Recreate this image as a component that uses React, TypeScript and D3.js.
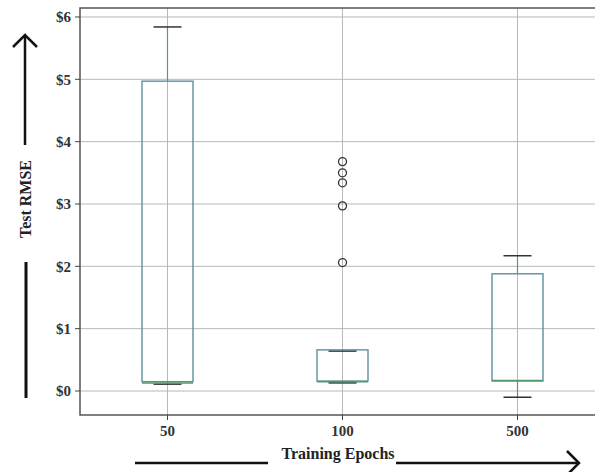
import React from 'react';
import * as d3 from 'd3';

const categories = ['50', '100', '500'];
// five-number summaries: [lowWhisker, q1, median, q3, highWhisker]
const stats = [
  [0.11, 0.15, 0.13, 4.97, 5.84],
  [0.13, 0.16, 0.15, 0.66, 0.64],
  [-0.1, 0.16, 0.17, 1.88, 2.17],
];
const outliers = [[], [3.68, 3.5, 3.34, 2.97, 2.06], []];
const yTicks = [0, 1, 2, 3, 4, 5, 6];

const W = 595;
const H = 472;
const left = 80;
const top = 8;
const bottom = 415;
const right = 605;

const App = () => {
  const x = d3.scaleBand().domain(categories).range([left, right]);
  const y = d3.scaleLinear().domain([-0.385, 6.144]).range([bottom, top]);
  const boxW = 51;
  const capW = 28;
  const font = '"Liberation Serif", "Times New Roman", serif';

  return (
    <svg width={W} height={H} style={{ position: 'absolute', left: 0, top: 0, background: '#fff' }}>
      {/* grid */}
      {yTicks.map(t => (
        <line key={'gy' + t} x1={left} x2={right} y1={y(t)} y2={y(t)} stroke="#b8b8b8" strokeWidth={1} />
      ))}
      {categories.map(c => {
        const cx = x(c)! + x.bandwidth() / 2;
        return <line key={'gx' + c} x1={cx} x2={cx} y1={top} y2={bottom} stroke="#b8b8b8" strokeWidth={1} />;
      })}

      {/* boxes */}
      {categories.map((c, i) => {
        const cx = x(c)! + x.bandwidth() / 2;
        const [lo, q1, med, q3, hi] = stats[i];
        const boxTop = y(Math.max(q1, q3));
        const boxBot = y(Math.min(q1, q3));
        return (
          <g key={c}>
            <line x1={cx} x2={cx} y1={y(hi)} y2={boxTop} stroke="#5a8ea0" strokeWidth={1.2} />
            <line x1={cx} x2={cx} y1={boxBot} y2={y(lo)} stroke="#5a8ea0" strokeWidth={1.2} />
            <line x1={cx - capW / 2} x2={cx + capW / 2} y1={y(hi)} y2={y(hi)} stroke="#333" strokeWidth={1.5} />
            <line x1={cx - capW / 2} x2={cx + capW / 2} y1={y(lo)} y2={y(lo)} stroke="#333" strokeWidth={1.5} />
            <rect x={cx - boxW / 2} y={boxTop} width={boxW} height={boxBot - boxTop}
              fill="none" stroke="#5f8fa0" strokeWidth={1.4} />
            <line x1={cx - boxW / 2} x2={cx + boxW / 2} y1={y(med)} y2={y(med)} stroke="#4f9a6a" strokeWidth={1.5} />
            {outliers[i].map((v, j) => (
              <circle key={j} cx={cx} cy={y(v)} r={4} fill="none" stroke="#333" strokeWidth={1.3} />
            ))}
          </g>
        );
      })}

      {/* frame */}
      <rect x={left} y={top} width={right - left} height={bottom - top} fill="none" stroke="#555" strokeWidth={1.5} />

      {/* y axis */}
      {yTicks.map(t => (
        <g key={'ty' + t}>
          <line x1={left - 5} x2={left} y1={y(t)} y2={y(t)} stroke="#444" strokeWidth={1} />
          <text x={left - 9} y={y(t)} dy="0.35em" textAnchor="end" fontFamily={font} fontWeight="bold"
            fontSize={15} fill="#333">{'$' + t}</text>
        </g>
      ))}

      {/* x axis */}
      {categories.map(c => {
        const cx = x(c)! + x.bandwidth() / 2;
        return (
          <g key={'tx' + c}>
            <line x1={cx} x2={cx} y1={bottom} y2={bottom + 5} stroke="#444" strokeWidth={1} />
            <text x={cx} y={bottom + 21} textAnchor="middle" fontFamily={font} fontWeight="bold"
              fontSize={15} fill="#333">{c}</text>
          </g>
        );
      })}

      {/* axis titles with arrows */}
      <text transform="translate(31,199) rotate(-90)" textAnchor="middle" fontFamily={font} fontWeight="bold"
        fontSize={16} fill="#222">Test RMSE</text>
      <line x1={25} x2={25} y1={145} y2={36} stroke="#111" strokeWidth={2.5} />
      <polyline points="13,47 25,35 37,47" fill="none" stroke="#111" strokeWidth={2.5} />
      <line x1={26} x2={26} y1={262} y2={398} stroke="#111" strokeWidth={3} />

      <text x={338} y={459} textAnchor="middle" fontFamily={font} fontWeight="bold" fontSize={16}
        fill="#222">Training Epochs</text>
      <line x1={135} x2={268} y1={463} y2={463} stroke="#111" strokeWidth={2.5} />
      <line x1={396} x2={578} y1={463} y2={463} stroke="#111" strokeWidth={2.5} />
      <polyline points="567,451 579,463 567,475" fill="none" stroke="#111" strokeWidth={2.5} />
    </svg>
  );
};

export default App;
